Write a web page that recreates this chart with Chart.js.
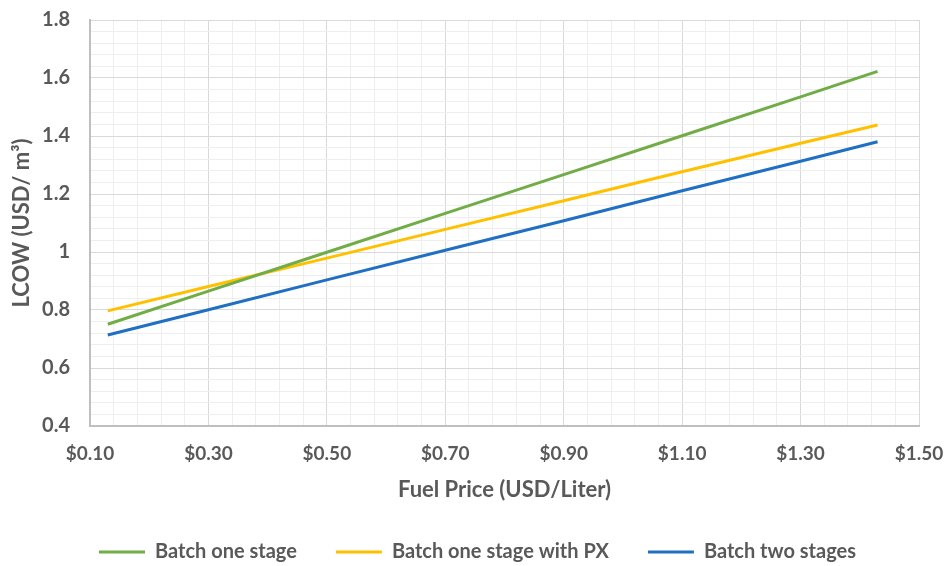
<!DOCTYPE html>
<html>
<head>
<meta charset="utf-8">
<script src="https://cdn.jsdelivr.net/npm/chart.js@4"></script>
<style>
  html, body { margin: 0; padding: 0; background: #fff; }
  #wrap { width: 947px; height: 566px; position: relative; }
</style>
</head>
<body>
<div id="wrap"><canvas id="c"></canvas></div>
<script>
// Fuel price (USD/Liter) sampled along each curve
const fuelPrice = [0.13, 0.30, 0.50, 0.70, 0.90, 1.10, 1.30, 1.43];

// Levelized cost of water (USD/m³)
const batchOneStage       = [0.751, 0.865, 0.999, 1.133, 1.267, 1.401, 1.535, 1.623];
const batchOneStageWithPX = [0.797, 0.881, 0.979, 1.078, 1.177, 1.277, 1.375, 1.438];
const batchTwoStages      = [0.714, 0.801, 0.904, 1.006, 1.108, 1.211, 1.313, 1.380];

// Axis tick values and their labels
const xTicks = [0.10, 0.30, 0.50, 0.70, 0.90, 1.10, 1.30, 1.50];
const xTickLabels = ['$0.10', '$0.30', '$0.50', '$0.70', '$0.90', '$1.10', '$1.30', '$1.50'];
const yTicks = [0.4, 0.6, 0.8, 1.0, 1.2, 1.4, 1.6, 1.8];
const yTickLabels = ['0.4', '0.6', '0.8', '1', '1.2', '1.4', '1.6', '1.8'];

const TEXT = '#595959';
const MAJOR_GRID = '#d9d9d9';
const MINOR_GRID = '#eeeeee';
const FONT = 'Lato, "Open Sans", sans-serif';

function toPoints(ys) {
  return fuelPrice.map((x, i) => ({ x: x, y: ys[i] }));
}
function labelFor(ticks, labels, v) {
  const i = ticks.findIndex(t => Math.abs(t - v) < 1e-6);
  return i >= 0 ? labels[i] : '';
}
function gridColor(ticks) {
  return ctx => (ctx.tick && ticks.some(t => Math.abs(t - ctx.tick.value) < 1e-6)) ? MAJOR_GRID : MINOR_GRID;
}

const series = [
  { label: 'Batch one stage', data: toPoints(batchOneStage), color: '#70ad47' },
  { label: 'Batch one stage with PX', data: toPoints(batchOneStageWithPX), color: '#ffc000' },
  { label: 'Batch two stages', data: toPoints(batchTwoStages), color: '#1f70c1' }
];

new Chart(document.getElementById('c'), {
  type: 'line',
  data: {
    datasets: series.map(s => ({
      label: s.label,
      data: s.data,
      borderColor: s.color,
      backgroundColor: s.color,
      borderWidth: 3,
      pointRadius: 0,
      tension: 0,
      fill: false
    }))
  },
  options: {
    responsive: true,
    maintainAspectRatio: false,
    animation: false,
    layout: { padding: { left: 8, top: 0, right: 0, bottom: 0 } },
    plugins: {
      tooltip: { enabled: false },
      legend: {
        position: 'bottom',
        maxHeight: 63,
        labels: {
          usePointStyle: true,
          pointStyle: 'line',
          pointStyleWidth: 46,
          padding: 39,
          color: TEXT,
          font: { family: FONT, size: 20, weight: 'bold' }
        }
      }
    },
    scales: {
      x: {
        type: 'linear',
        min: 0.10,
        max: 1.50,
        afterFit: s => { s.height = 77; s.paddingLeft = 0; s.paddingRight = 28; },
        ticks: {
          stepSize: 0.04,
          autoSkip: false,
          maxRotation: 0,
          padding: 16,
          color: TEXT,
          font: { family: FONT, size: 19, weight: 'bold' },
          callback: v => labelFor(xTicks, xTickLabels, v)
        },
        grid: { color: gridColor(xTicks), lineWidth: 1, drawTicks: false },
        border: { display: true, color: '#bfbfbf', width: 2 },
        title: {
          display: true,
          text: 'Fuel Price (USD/Liter)',
          color: TEXT,
          font: { family: FONT, size: 22, weight: 'bold' },
          padding: { top: 0, bottom: 0 }
        }
      },
      y: {
        type: 'linear',
        min: 0.4,
        max: 1.8,
        afterFit: s => { s.width = 82; s.paddingTop = 20; s.paddingBottom = 0; },
        ticks: {
          stepSize: 0.04,
          autoSkip: false,
          padding: 20,
          color: TEXT,
          font: { family: FONT, size: 20, weight: 'bold' },
          callback: v => labelFor(yTicks, yTickLabels, v)
        },
        grid: { color: gridColor(yTicks), lineWidth: 1, drawTicks: false },
        border: { display: true, color: '#bfbfbf', width: 2 },
        title: {
          display: true,
          text: 'LCOW (USD/ m³)',
          color: TEXT,
          font: { family: FONT, size: 22, weight: 'bold' },
          padding: { top: 1, bottom: 0 }
        }
      }
    }
  }
});
</script>
</body>
</html>
